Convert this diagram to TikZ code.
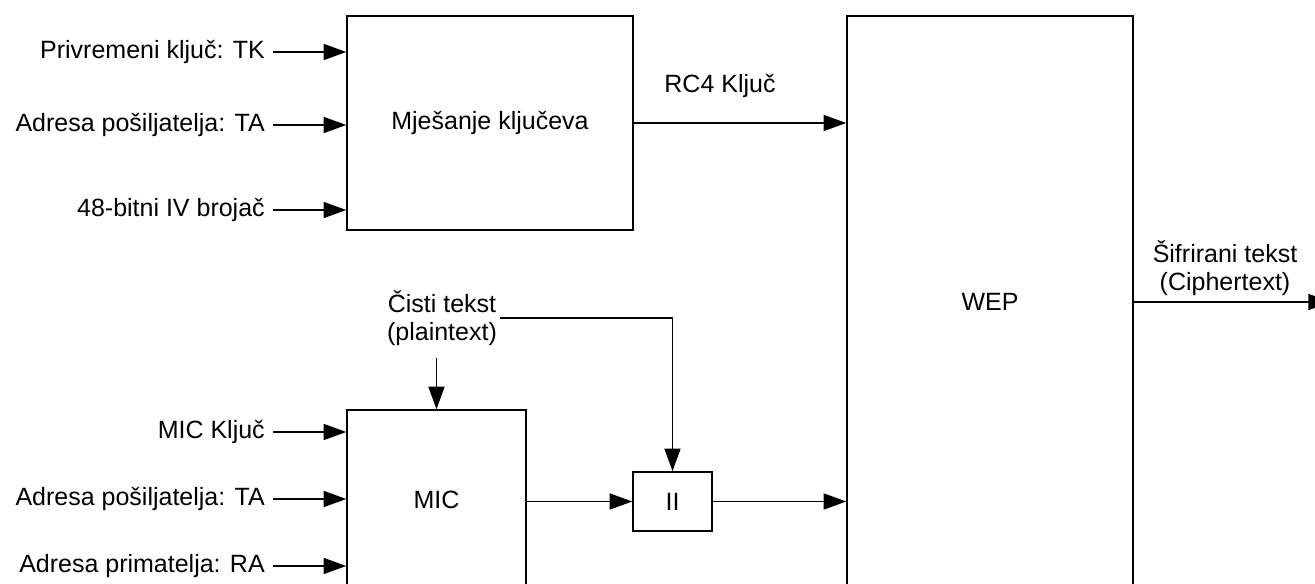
\documentclass[tikz,border=0pt]{standalone}
\usepackage{fontspec}
\setmainfont{Liberation Sans}
\usetikzlibrary{arrows.meta,positioning,calc}
\definecolor{cInk}{HTML}{000000}
\tikzset{
  blk/.style={draw=cInk,line width=1.1pt,inner sep=0pt,text=cInk,font=\fontsize{18.75}{21}\selectfont},
  lbl/.style={font=\fontsize{18.75}{21}\selectfont,text=cInk,inner sep=2pt,align=center},
  inlbl/.style={lbl,anchor=east,inner xsep=6pt},
  arr/.style={-{Triangle[length=17pt,width=12pt]},line width=1.2pt,color=cInk},
}

\begin{document}
\begin{tikzpicture}[x=0.75pt,y=-0.75pt]
  \useasboundingbox (0,0) rectangle (1315,584);
  \clip (0,0) rectangle (1315,584);
  % blocks
  \node[blk,minimum width=214.5pt,minimum height=160.5pt] (mix) at (490,123) {Mješanje ključeva};
  \node[blk,minimum width=214.5pt,minimum height=429pt] (wep) at (990,302) {WEP};
  \node[blk,minimum width=134.25pt,minimum height=135pt] (mic) at (436.5,500) {MIC};
  \node[blk,minimum width=59.25pt,minimum height=44.25pt] (ii) at (672.5,501.5) {II};
  % key mixing inputs
  \foreach \nm/\yy/\txt in {tk/52/Privremeni ključ: TK, ta/125/Adresa pošiljatelja: TA, iv/210/48-bitni IV brojač}{
    \node[inlbl] (\nm) at (273,\yy) {\txt};
    \draw[arr] (\nm.east) -- (\nm.east -| mix.west);
  }
  % MIC inputs
  \foreach \nm/\yy/\txt in {mk/432/MIC Ključ, tb/499/Adresa pošiljatelja: TA, ra/566/Adresa primatelja: RA}{
    \node[inlbl] (\nm) at (273,\yy) {\txt};
    \draw[arr] (\nm.east) -- (\nm.east -| mic.west);
  }
  % RC4 key
  \node[lbl] (rc4) at (720,86) {RC4 Ključ};
  \draw[arr] (mix.east) -- (mix.east -| wep.west);
  % plaintext
  \node[lbl] (pt) at (442,318) {Čisti tekst\\(plaintext)};
  \draw[arr] (pt.east) -| (ii.north);
  \draw[arr,shorten <=7pt] (pt.south -| mic.north) -- (mic.north);
  \draw[arr] (mic.east |- ii.west) -- (ii.west);
  \draw[arr] (ii.east) -- (ii.east -| wep.west);
  % ciphertext
  \node[lbl] (ct) at (1225,268) {Šifrirani tekst\\(Ciphertext)};
  \coordinate (out) at (1331,302);
  \draw[arr] (wep.east |- out) -- (out);
\end{tikzpicture}
\end{document}
